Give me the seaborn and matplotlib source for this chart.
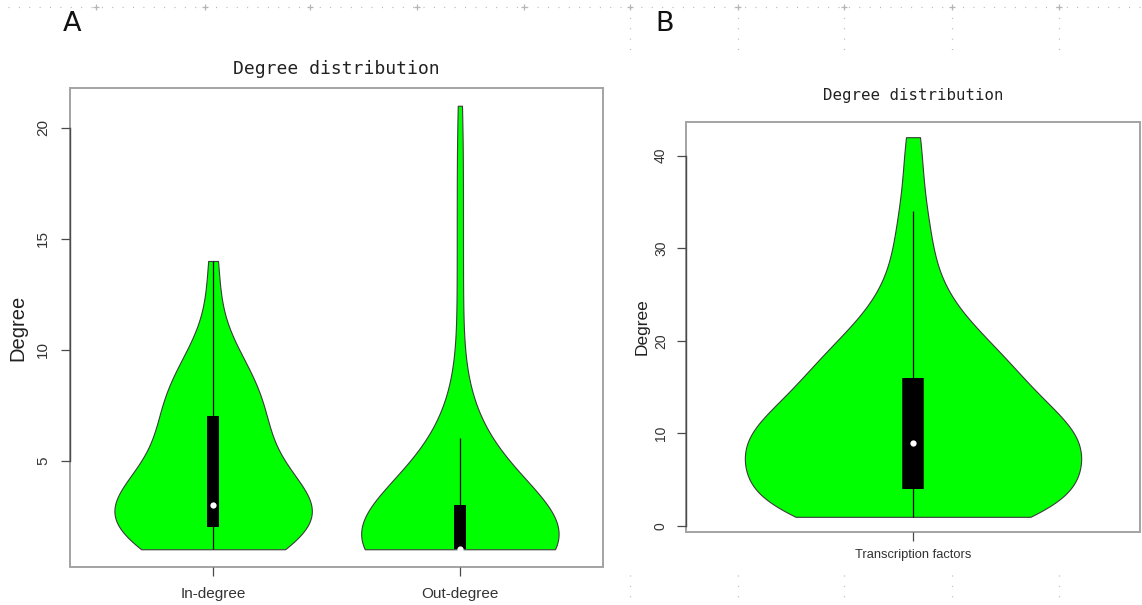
import numpy as np
import pandas as pd
import matplotlib
matplotlib.use("Agg")
import matplotlib.pyplot as plt
from matplotlib.lines import Line2D
from matplotlib.patches import Rectangle
import seaborn as sns

# ---------------- data ----------------
# Panel A
categories_a = ["In-degree", "Out-degree"]
in_degree_values = [1, 2, 3, 4, 5, 6, 7, 8, 9, 10, 11, 13, 14]
in_degree_counts = [11, 13, 18, 6, 6, 6, 6, 6, 5, 2, 1, 1, 1]
out_degree_values = [1, 2, 3, 4, 5, 6, 7, 9, 11, 13, 15, 17, 19, 21]
out_degree_counts = [58, 17, 11, 8, 6, 4, 2, 1, 1, 1, 1, 1, 1, 1]
yticks_a = [5, 10, 15, 20]

# Panel B
categories_b = ["Transcription factors"]
tf_degree_values = [1, 2, 3, 4, 5, 6, 7, 8, 9, 10, 11, 12, 13, 14, 15, 16,
                    17, 18, 19, 20, 21, 22, 23, 24, 25, 26, 28, 30, 32, 34, 38, 42]
tf_degree_counts = [8, 6, 6, 5, 3, 3, 3, 3, 11, 4, 4, 3, 3, 3, 3, 3,
                    3, 3, 2, 2, 2, 1, 1, 1, 1, 1, 1, 1, 1, 1, 1, 1]
yticks_b = [0, 10, 20, 30, 40]

title_text = "Degree distribution"
ylabel_text = "Degree"

# ---------------- build tables ----------------
df_in = pd.DataFrame({"kind": categories_a[0],
                      "degree": np.repeat(in_degree_values, in_degree_counts)})
df_out = pd.DataFrame({"kind": categories_a[1],
                       "degree": np.repeat(out_degree_values, out_degree_counts)})
df_tf = pd.DataFrame({"kind": categories_b[0],
                      "degree": np.repeat(tf_degree_values, tf_degree_counts)})

sns.set_style("white")
plt.rcParams["font.family"] = ["Liberation Sans", "DejaVu Sans"]

W, H = 1142, 605
fig = plt.figure(figsize=(W / 100, H / 100), dpi=100)
ax_a = fig.add_axes([70 / W, 1 - 567 / H, 533 / W, 479 / H])
ax_b = fig.add_axes([686 / W, 1 - 532 / H, 454 / W, 410 / H])

GREEN = "#00ff00"
EDGE = "#3c3c3c"
FRAME = "#a3a3a3"
AXIS = "#4a4a4a"

base_kw = dict(x="kind", y="degree", color=GREEN, linecolor=EDGE, linewidth=0.8,
               cut=0, density_norm="width", width=0.8, inner="box",
               gridsize=400, saturation=1)

sns.violinplot(data=df_in, order=categories_a, ax=ax_a, bw_adjust=1.3,
               inner_kws=dict(box_width=8.6, whis_width=0.9, color="black", marker="o"),
               **base_kw)
sns.violinplot(data=df_out, order=categories_a, ax=ax_a, bw_adjust=1.6,
               inner_kws=dict(box_width=8.6, whis_width=0.9, color="black", marker="o"),
               **base_kw)
sns.violinplot(data=df_tf, order=categories_b, ax=ax_b, bw_adjust=1.0,
               inner_kws=dict(box_width=15.5, whis_width=0.9, color="black", marker="o"),
               **base_kw)

# box ends square, median dots small white circles
for ax in (ax_a, ax_b):
    for ln in ax.lines:
        ln.set_solid_capstyle("butt")
        if ln.get_marker() not in (None, "None", "", " "):
            ln.set_markersize(4.5)
            ln.set_markeredgewidth(0)
            ln.set_markerfacecolor("white")
            ln.set_color("white")
            ln.set_zorder(5)

def style_axis(ax, ylim, xlim, yticks, labels, ytick_fs, xtick_fs, ylabel_fs,
               ylabelpad, ypad, xpad, title_fs, title_pad):
    ax.set_ylim(*ylim)
    ax.set_xlim(*xlim)
    ax.set_yticks(yticks)
    ax.set_yticklabels([str(t) for t in yticks], rotation=90, va="center",
                       fontsize=ytick_fs, color="#333333")
    ax.set_xticks(range(len(labels)))
    ax.set_xticklabels(labels, fontsize=xtick_fs, color="#333333")
    ax.set_xlabel("")
    ax.set_ylabel(ylabel_text, fontsize=ylabel_fs, labelpad=ylabelpad, color="#222222")
    ax.tick_params(axis="y", direction="out", length=6.5, width=0.9, color=AXIS,
                   pad=ypad, left=True)
    ax.tick_params(axis="x", direction="out", length=6.5, width=0.9, color=AXIS,
                   pad=xpad, bottom=True)
    for s in ("top", "right", "bottom"):
        ax.spines[s].set_visible(False)
    ax.spines["left"].set_bounds(yticks[0], yticks[-1])
    ax.spines["left"].set_color(AXIS)
    ax.spines["left"].set_linewidth(1.0)
    ax.add_patch(Rectangle((0, 0), 1, 1, transform=ax.transAxes, fill=False,
                           ec=FRAME, lw=1.4, clip_on=False, zorder=0.5))
    ax.set_title(title_text, fontfamily="DejaVu Sans Mono", fontsize=title_fs,
                 pad=title_pad, color="#222222")
    ax.grid(False)

style_axis(ax_a, (0.2, 21.8), (-0.58, 1.58), yticks_a, categories_a,
           11, 11, 14.5, 6, 8, 8, 13, 10)
style_axis(ax_b, (-0.64, 43.64), (-0.54, 0.54), yticks_b, categories_b,
           10, 9.3, 12.5, 3, 6.5, 6, 11.3, 16)

# panel letters
fig.text(63 / W, 1 - 31 / H, "A", fontsize=19.5, family="DejaVu Sans",
         va="baseline", color="#111111")
fig.text(655 / W, 1 - 31 / H, "B", fontsize=19.5, family="DejaVu Sans",
         va="baseline", color="#111111")

# faint dotted guide lines of the page background
GUIDE = "#b5b5b5"
def fline(xs, ys):
    fig.add_artist(Line2D([x / W for x in xs], [1 - y / H for y in ys],
                          transform=fig.transFigure, color=GUIDE, lw=0.9,
                          linestyle=(0, (0.8, 7.5)), zorder=0))
fline([8, W], [7, 7])
for gx in (630, 738, 844, 952, 1059):
    fline([gx, gx], [7, 52])
    fline([gx, gx], [575, 600])
plus_x = (96, 205, 310, 417, 524, 630, 738, 844, 952, 1059)
fig.add_artist(Line2D([x / W for x in plus_x], [1 - 7 / H] * len(plus_x),
                      transform=fig.transFigure, color=GUIDE, lw=0,
                      marker="+", markersize=5, markeredgewidth=0.9, zorder=0))

fig.savefig("out.png", dpi=100, facecolor="white")
